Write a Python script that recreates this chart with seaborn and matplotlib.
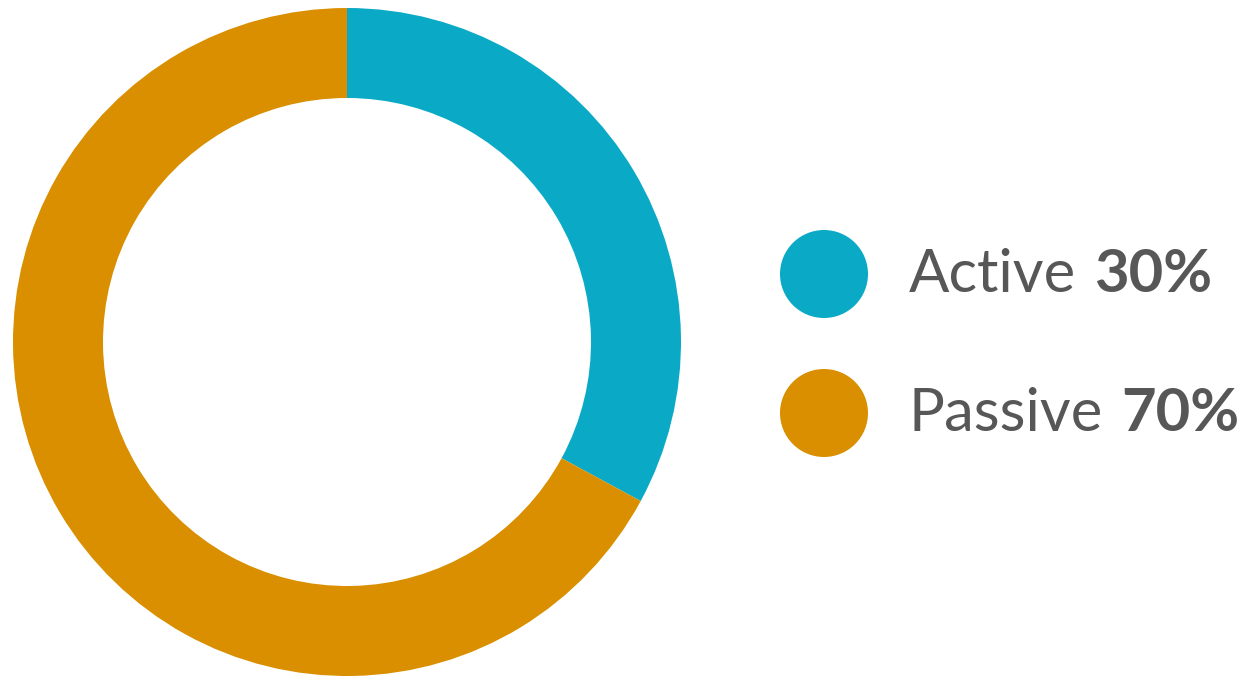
import matplotlib
matplotlib.use("Agg")
import matplotlib.pyplot as plt
from matplotlib.patches import Circle
import seaborn as sns

# Data
categories = ["Active", "Passive"]
drawn_shares = [32.9, 67.1]          # arc sizes as drawn in the picture
value_labels = ["30%", "70%"]         # labels printed in the legend
colors = ["#0AAAC7", "#D98F00"]

sns.set_theme(style="white")
plt.rcParams["font.family"] = ["Lato", "DejaVu Sans"]

W, H = 1251, 681
fig = plt.figure(figsize=(W / 100, H / 100), dpi=100)
ax = fig.add_axes([0, 0, 1, 1])
ax.set_xlim(0, W)
ax.set_ylim(0, H)
ax.set_aspect("equal")
ax.axis("off")

cx, cy = 347, H - 342
R, ring = 334, 90
ax.pie(drawn_shares, colors=colors, startangle=90, counterclock=False,
       center=(cx, cy), radius=R, frame=True,
       wedgeprops=dict(width=ring, edgecolor="none", linewidth=0))
ax.set_xlim(0, W)
ax.set_ylim(0, H)
ax.axis("off")

text_color = "#575757"
fs = 43
gap = 18
leg_y = [274, 413]
base_y = [292, 431]
fig.canvas.draw()
renderer = fig.canvas.get_renderer()
for cat, lab, col, ly, by in zip(categories, value_labels, colors, leg_y, base_y):
    ax.add_patch(Circle((824, H - ly), 44, color=col, lw=0))
    t1 = ax.text(909, H - by, cat, fontsize=fs, color=text_color,
                 fontweight="normal", va="baseline", ha="left")
    bb = t1.get_window_extent(renderer=renderer)
    x_end = ax.transData.inverted().transform((bb.x1, bb.y0))[0]
    ax.text(x_end + gap, H - by, lab, fontsize=fs, color=text_color,
            fontweight="bold", va="baseline", ha="left")

fig.savefig("out.png", dpi=100)
